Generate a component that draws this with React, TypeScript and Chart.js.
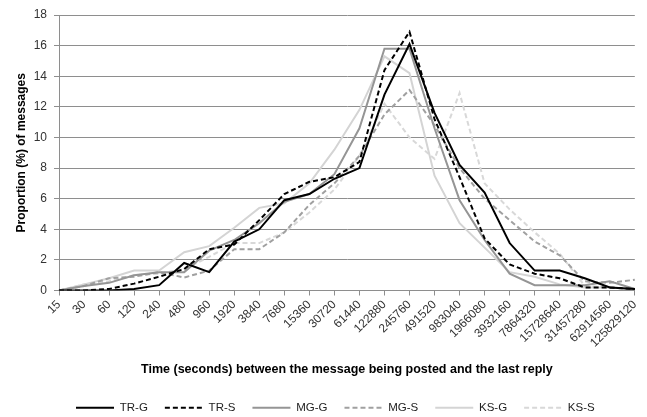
import React, { useEffect, useRef } from 'react';
import { Chart, registerables } from 'chart.js';

Chart.register(...registerables);

const categories = ['15', '30', '60', '120', '240', '480', '960', '1920', '3840', '7680', '15360', '30720', '61440', '122880', '245760', '491520', '983040', '1966080', '3932160', '7864320', '15728640', '31457280', '62914560', '125829120'];

const trG = [0, 0, 0, 0.1, 0.35, 1.8, 1.2, 3.2, 4.0, 5.9, 6.3, 7.3, 8.0, 12.8, 16.1, 11.6, 8.2, 6.4, 3.1, 1.3, 1.3, 0.8, 0.2, 0.1];
const trS = [0, 0, 0.1, 0.45, 0.9, 1.4, 2.7, 3.0, 4.6, 6.3, 7.1, 7.4, 8.4, 14.4, 16.9, 11.2, 7.4, 3.4, 1.7, 1.1, 0.8, 0.2, 0.2, 0.1];
const mgG = [0, 0.3, 0.5, 1.0, 1.2, 1.2, 2.6, 3.3, 4.4, 5.8, 6.3, 7.6, 10.6, 15.8, 15.8, 10.6, 5.9, 3.3, 1.1, 0.35, 0.35, 0.35, 0.6, 0.1];
const mgS = [0, 0.3, 0.8, 0.9, 1.2, 0.85, 1.3, 2.7, 2.7, 3.8, 5.6, 7.0, 8.8, 11.5, 13.1, 10.8, 8.0, 6.0, 4.6, 3.2, 2.3, 0.6, 0.5, 0.7];
const ksG = [0, 0.4, 0.8, 1.3, 1.3, 2.5, 2.9, 4.1, 5.4, 5.7, 7.0, 9.2, 11.8, 15.3, 14.2, 7.5, 4.4, 2.8, 1.2, 0.9, 0.4, 0.2, 0.2, 0.1];
const ksS = [0, 0.4, 0.6, 1.0, 1.1, 1.4, 2.2, 3.1, 3.1, 3.8, 5.1, 6.6, 8.8, 12.2, 10.0, 8.6, 12.9, 7.0, 5.3, 3.8, 2.4, 0.3, 0.2, 0.1];

const seriesNames = ['TR-G', 'TR-S', 'MG-G', 'MG-S', 'KS-G', 'KS-S'];
const yTitle = 'Proportion (%) of messages';
const xTitle = 'Time (seconds) between the message being posted and the last reply';

export default function App() {
  const ref = useRef<HTMLCanvasElement>(null);

  useEffect(() => {
    document.body.style.margin = '0';
    const FONT = "'Liberation Sans', Arial, sans-serif";
    Chart.defaults.font.family = FONT;
    const dash = [5, 3];
    const mk = (label: string, data: number[], color: string, dashed: boolean, width = 2) => ({
      label,
      data,
      borderColor: color,
      backgroundColor: color,
      borderWidth: width,
      borderDash: dashed ? dash : [],
      pointRadius: 0,
      pointHoverRadius: 0,
      tension: 0,
      fill: false,
    });
    const grid = '#8e8e8e';
    const chart = new Chart(ref.current!, {
      type: 'line',
      data: {
        labels: categories,
        datasets: [
          mk(seriesNames[0], trG, '#000000', false, 2),
          mk(seriesNames[1], trS, '#000000', true, 2),
          mk(seriesNames[2], mgG, '#959595', false, 2),
          mk(seriesNames[3], mgS, '#a0a0a0', true, 2),
          mk(seriesNames[4], ksG, '#d4d4d4', false, 2),
          mk(seriesNames[5], ksS, '#d8d8d8', true, 2),
        ],
      },
      options: {
        responsive: false,
        animation: false,
        events: [],
        layout: { padding: { top: 15, right: 4, bottom: -6.5, left: 0 } },
        plugins: {
          tooltip: { enabled: false },
          legend: {
            position: 'bottom',
            align: 'start',
            fullSize: false,
            labels: {
              usePointStyle: true,
              pointStyle: 'line',
              pointStyleWidth: 38,
              padding: 17,
              color: '#222',
              font: { size: 11.5, family: FONT },
              generateLabels: (c: any) => {
                const items = Chart.defaults.plugins.legend.labels.generateLabels(c);
                return items.map((it: any, i: number) => {
                  const ds: any = c.data.datasets[i];
                  return {
                    ...it,
                    strokeStyle: ds.borderColor,
                    fillStyle: ds.borderColor,
                    lineWidth: ds.borderWidth,
                    lineDash: ds.borderDash,
                    pointStyle: 'line',
                  };
                });
              },
            },
          },
        },
        scales: {
          x: {
            offset: false,
            grid: {
              drawOnChartArea: false,
              drawTicks: true,
              tickLength: 5,
              tickColor: grid,
              color: grid,
            },
            border: { color: grid, width: 1 },
            ticks: {
              autoSkip: false,
              minRotation: 45,
              maxRotation: 45,
              padding: 2,
              color: '#333',
              font: { size: 12, family: FONT },
            },
            title: {
              display: true,
              text: xTitle,
              color: '#000',
              font: { size: 12.5, weight: 'bold', family: FONT },
              padding: { top: 4, bottom: 8 },
            },
            afterFit: (s: any) => { s.height = 94.5; },
          },
          y: {
            min: 0,
            max: 18,
            grid: { color: grid, tickLength: 5, tickColor: grid, lineWidth: 1 },
            border: { color: grid, width: 1 },
            ticks: {
              stepSize: 2,
              padding: 7,
              color: '#333',
              font: { size: 12, family: FONT },
            },
            title: {
              display: true,
              text: yTitle,
              color: '#000',
              font: { size: 12, weight: 'bold', family: FONT },
              padding: { top: 14, bottom: 0 },
            },
            afterFit: (s: any) => { s.width = 59; },
          },
        },
      },
    } as any);
    return () => chart.destroy();
  }, []);

  return (
    <div style={{ width: 647, height: 417, background: '#fff' }}>
      <canvas ref={ref} width={647} height={417} style={{ display: 'block' }} />
    </div>
  );
}
